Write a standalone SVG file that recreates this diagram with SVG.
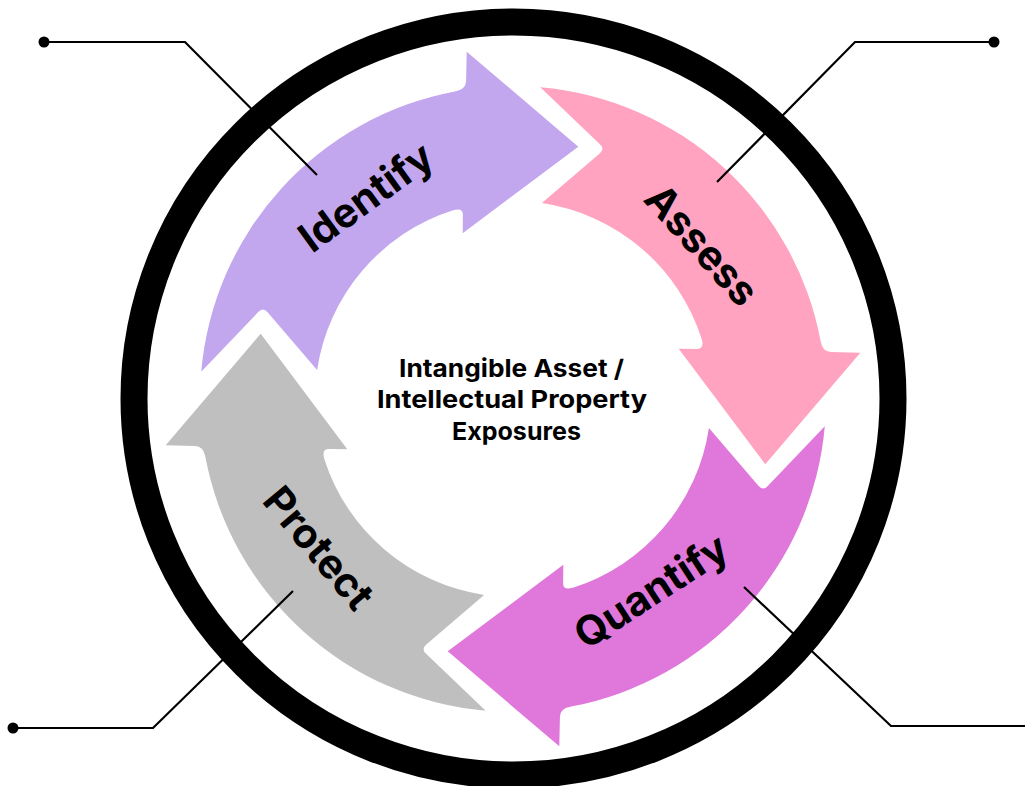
<svg xmlns="http://www.w3.org/2000/svg" width="1025" height="786" viewBox="0 0 1025 786">
  <defs>
    <style>
      .lbl { font-family: Inter, "Liberation Sans", sans-serif; font-weight: 700; font-size: 41px; fill: #000; text-anchor: middle; }
      .hub { font-family: Inter, "Liberation Sans", sans-serif; font-weight: 700; font-size: 24.5px; fill: #000; text-anchor: middle; }
      .lead { fill: none; stroke: #000; stroke-width: 2.2; stroke-linejoin: miter; }
    </style>
    <!-- one curved arrow segment, drawn around (0,0), pointing clockwise -->
    <path id="seg" d="M -311.8,-27.3 A 313 313 0 0 1 -58.1,-307.6 Q -47.1,-309.4 -46.9,-318 L -46.3,-347.3 L 65.3,-252.3 L -50.3,-165.7 L -50.1,-184 Q -50,-191.6 -59.9,-188.7 A 198 198 0 0 0 -195.9,-28.9 L -245.4,-86.7 Q -250,-92 -254.8,-86.9 Z"/>
  </defs>
  <rect width="1025" height="786" fill="#fff"/>

  <!-- outer ring -->
  <ellipse cx="513.5" cy="398.5" rx="379.5" ry="376.5" fill="none" stroke="#000" stroke-width="27"/>

  <g id="identify">
    <use href="#seg" transform="translate(513,399)" fill="#C3A7EE"/>
    <text class="lbl" transform="translate(366,197) rotate(-36)" y="14.5">Identify</text>
  </g>
  <g id="assess">
    <use href="#seg" transform="translate(513,399) rotate(90)" fill="#FFA3C1"/>
    <text class="lbl" transform="translate(702,245) rotate(48)" y="14.5">Assess</text>
  </g>
  <g id="quantify">
    <use href="#seg" transform="translate(513,399) rotate(180)" fill="#E077DA"/>
    <text class="lbl" transform="translate(651,591) rotate(-33)" y="14.5">Quantify</text>
  </g>
  <g id="protect">
    <use href="#seg" transform="translate(513,399) rotate(270)" fill="#BFBFBF"/>
    <text class="lbl" transform="translate(319,548) rotate(50)" y="14.5">Protect</text>
  </g>

  <g id="hub">
    <text class="hub" x="511.5" y="376.5" textLength="225" lengthAdjust="spacingAndGlyphs">Intangible Asset /</text>
    <text class="hub" x="512" y="408" textLength="270" lengthAdjust="spacingAndGlyphs">Intellectual Property</text>
    <text class="hub" x="516.5" y="440" textLength="129" lengthAdjust="spacingAndGlyphs">Exposures</text>
  </g>

  <g id="connectors">
    <polyline class="lead" points="44,42 185,42 317,175"/>
    <circle cx="44" cy="42" r="5.5"/>
    <polyline class="lead" points="994,42 855,42 717,182"/>
    <circle cx="994" cy="42" r="5.5"/>
    <polyline class="lead" points="13,728 153,728 293,591"/>
    <circle cx="13" cy="728" r="5.5"/>
    <polyline class="lead" points="1025,726 891,726 744,587"/>
  </g>
</svg>
